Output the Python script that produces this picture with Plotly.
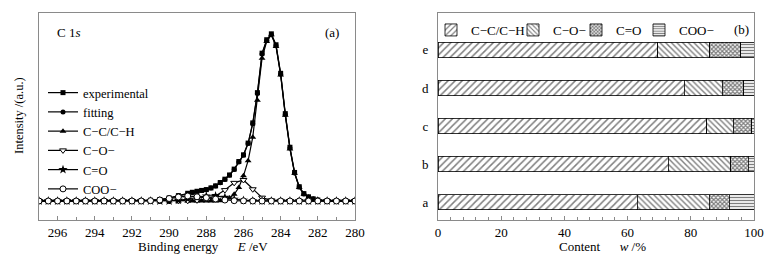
import plotly.graph_objects as go

# ---------------- data: XPS C 1s (panel a) ----------------
# fine energy grid for the main peak series (eV)
E_fine = [297, 296.5, 296, 295.5, 295, 294.5, 294, 293.5, 293, 292.5, 292, 291.5, 291, 290.5, 290, 289.5,
          289, 288.75, 288.5, 288.25, 288, 287.75, 287.5, 287.25, 287, 286.75, 286.5, 286.25, 286,
          285.75, 285.5, 285.25, 285, 284.75, 284.5, 284.25, 284, 283.75, 283.5, 283.25, 283, 282.75,
          282.5, 282.25, 282, 281.5, 281, 280.5, 280]
experimental = [0, 0, 0, 0, 0, 0, 0, 0, 0, 0, 0.001, 0.002, 0.004, 0.009, 0.018, 0.032,
                0.046, 0.052, 0.058, 0.063, 0.068, 0.078, 0.09, 0.11, 0.13, 0.155, 0.19, 0.235, 0.275,
                0.345, 0.465, 0.645, 0.88, 0.96, 0.995, 0.93, 0.76, 0.52, 0.32, 0.17, 0.085, 0.044,
                0.025, 0.013, 0.006, 0.002, 0, 0, 0]
fitting = [0, 0, 0, 0, 0, 0, 0, 0, 0, 0, 0, 0.001, 0.003, 0.008, 0.017, 0.031,
           0.045, 0.051, 0.057, 0.062, 0.067, 0.077, 0.089, 0.108, 0.128, 0.153, 0.188, 0.232, 0.272,
           0.342, 0.46, 0.64, 0.875, 0.955, 0.99, 0.925, 0.755, 0.515, 0.315, 0.167, 0.083, 0.042,
           0.023, 0.012, 0.005, 0.001, 0, 0, 0]
cc_ch = [0, 0, 0, 0, 0, 0, 0, 0, 0, 0, 0, 0, 0, 0, 0, 0,
         0, 0, 0, 0, 0, 0, 0, 0.002, 0.005, 0.018, 0.04, 0.08, 0.15,
         0.24, 0.38, 0.6, 0.85, 0.95, 0.99, 0.92, 0.75, 0.51, 0.31, 0.165, 0.08, 0.04,
         0.022, 0.011, 0.005, 0.001, 0, 0, 0]

# coarse energy grid for the minor components (eV)
E_coarse = [297, 296.5, 296, 295.5, 295, 294.5, 294, 293.5, 293, 292.5, 292, 291.5, 291, 290.5, 290,
            289.5, 289, 288.5, 288, 287.5, 287, 286.5, 286, 285.5, 285, 284.5, 284, 283.5, 283,
            282.5, 282, 281.5, 281, 280.5, 280]
c_o = [0, 0, 0, 0, 0, 0, 0, 0, 0, 0, 0, 0, 0, 0, 0,
       0, 0.001, 0.004, 0.012, 0.03, 0.065, 0.108, 0.125, 0.07, 0.02, 0.004, 0.001, 0, 0,
       0, 0, 0, 0, 0, 0]
c_eq_o = [0, 0, 0, 0, 0, 0, 0, 0, 0, 0, 0, 0, 0, 0, 0,
          0.004, 0.012, 0.022, 0.03, 0.03, 0.022, 0.011, 0.004, 0.001, 0, 0, 0, 0, 0,
          0, 0, 0, 0, 0, 0]
coo = [0, 0, 0, 0, 0, 0, 0, 0, 0, 0, 0, 0, 0.002, 0.006, 0.015,
       0.024, 0.03, 0.025, 0.02, 0.012, 0.006, 0.002, 0.001, 0, 0, 0, 0, 0, 0,
       0, 0, 0, 0, 0, 0]

xps_names = ["experimental", "fitting", "C\u2212C/C\u2212H", "C\u2212O\u2212", "C=O", "COO\u2212"]
energy_ticks = [296, 294, 292, 290, 288, 286, 284, 282, 280]

# ---------------- data: composition (panel b) ----------------
samples = ["a", "b", "c", "d", "e"]
comp_names = ["C\u2212C/C\u2212H", "C\u2212O\u2212", "C=O", "COO\u2212"]
w_cc = [63.1, 72.9, 85.0, 77.9, 69.6]
w_co = [22.8, 19.7, 8.4, 12.1, 16.4]
w_c_eq_o = [6.2, 5.6, 5.9, 6.8, 9.8]
w_coo = [7.9, 1.8, 0.7, 3.2, 4.2]
content_ticks = [0, 20, 40, 60, 80, 100]

FONT = "Liberation Serif"
FRAME = "#8a8a8a"

fig = go.Figure()

# ---- panel (a) traces ----
xps_series = [
    (E_fine, experimental, dict(symbol="square", size=5, color="black")),
    (E_fine, fitting, dict(symbol="circle", size=5, color="black")),
    (E_fine, cc_ch, dict(symbol="triangle-up", size=6, color="black")),
    (E_coarse, c_o, dict(symbol="triangle-down", size=6, color="white", line=dict(color="black", width=1))),
    (E_coarse, c_eq_o, dict(symbol="star", size=7, color="black")),
    (E_coarse, coo, dict(symbol="circle", size=6, color="white", line=dict(color="black", width=1))),
]
for name, (xs, ys, mk) in zip(xps_names, xps_series):
    fig.add_trace(go.Scatter(x=xs, y=ys, name=name, mode="lines+markers",
                             line=dict(color="black", width=1.2), marker=mk,
                             xaxis="x", yaxis="y", legend="legend"))

# ---- panel (b) traces ----
patterns = [
    dict(shape="/", size=5, solidity=0.3, fgcolor="black", bgcolor="white"),
    dict(shape="\\", size=4, solidity=0.35, fgcolor="black", bgcolor="white"),
    dict(shape="x", size=3, solidity=0.65, fgcolor="black", bgcolor="white"),
    dict(shape="-", size=3, solidity=0.45, fgcolor="black", bgcolor="white"),
]
bar_legends = ["legend2", "legend3", "legend4", "legend5"]
for name, vals, pat, lg in zip(comp_names, [w_cc, w_co, w_c_eq_o, w_coo], patterns, bar_legends):
    fig.add_trace(go.Bar(x=vals, y=samples, name=name, orientation="h", width=0.4,
                         marker=dict(color="white", pattern=pat, line=dict(color="black", width=0.8)),
                         xaxis="x2", yaxis="y2", legend=lg))

W, H = 769, 259
def px_x(p): return p / W          # window pixel -> paper x
def px_y(p): return 1 - p / H      # window pixel -> paper y

hleg = dict(y=px_y(15), xanchor="left", yanchor="top", orientation="h", bgcolor="rgba(0,0,0,0)",
            font=dict(size=13, family=FONT), itemwidth=30, traceorder="normal")

fig.update_layout(
    width=W, height=H, margin=dict(l=0, r=0, t=0, b=0, autoexpand=False),
    paper_bgcolor="white", plot_bgcolor="white",
    font=dict(family=FONT, size=13, color="black"),
    barmode="stack", hovermode=False,
    xaxis=dict(domain=[px_x(39), px_x(355)], range=[297, 280], tickvals=energy_ticks,
               ticks="inside", ticklen=4, tickcolor=FRAME,
               minor=dict(dtick=1, ticks="inside", ticklen=3, tickcolor=FRAME),
               showline=True, linecolor=FRAME, mirror=True, showgrid=False, zeroline=False,
               tickfont=dict(size=13, family=FONT), anchor="y"),
    yaxis=dict(domain=[px_y(220), px_y(13)], range=[-0.113, 1.119], showticklabels=False,
               ticks="", showline=True, linecolor=FRAME, mirror=True, showgrid=False,
               zeroline=False, anchor="x"),
    xaxis2=dict(domain=[px_x(438), px_x(754)], range=[0, 100], tickvals=content_ticks,
                ticks="inside", ticklen=4, tickcolor=FRAME,
                minor=dict(dtick=4, ticks="inside", ticklen=3, tickcolor=FRAME),
                showline=True, linecolor=FRAME, mirror=True, showgrid=False, zeroline=False,
                tickfont=dict(size=13, family=FONT), anchor="y2"),
    yaxis2=dict(domain=[px_y(220), px_y(13)], type="category", categoryorder="array",
                categoryarray=samples, range=[-0.47, 4.97], ticks="", ticklabelstandoff=6,
                showline=True, linecolor=FRAME, mirror=True, showgrid=False, zeroline=False,
                tickfont=dict(size=13, family=FONT), anchor="x2"),
    legend=dict(x=px_x(43), y=px_y(78), xanchor="left", yanchor="top", orientation="v",
                bgcolor="rgba(0,0,0,0)", font=dict(size=12.5, family=FONT),
                itemwidth=30, tracegroupgap=0, traceorder="normal"),
    legend2=dict(x=px_x(431), **hleg),
    legend3=dict(x=px_x(513), **hleg),
    legend4=dict(x=px_x(576), **hleg),
    legend5=dict(x=px_x(639), **hleg),
    annotations=[
        dict(text="C 1<i>s</i>", x=px_x(55), y=px_y(33), xref="paper", yref="paper",
             xanchor="left", yanchor="middle", showarrow=False, font=dict(size=13)),
        dict(text="(a)", x=px_x(341), y=px_y(33), xref="paper", yref="paper",
             xanchor="right", yanchor="middle", showarrow=False, font=dict(size=13)),
        dict(text="(b)", x=px_x(751), y=px_y(30), xref="paper", yref="paper",
             xanchor="right", yanchor="middle", showarrow=False, font=dict(size=13)),
        dict(text="Intensity /(a.u.)", x=px_x(19), y=px_y(116), xref="paper", yref="paper",
             textangle=-90, xanchor="center", yanchor="middle", showarrow=False, font=dict(size=12.5)),
        dict(text="Binding energy&#160;&#160;&#160;&#160;&#160;&#160;<i>E</i> /eV", x=px_x(203), y=px_y(246),
             xref="paper", yref="paper", xanchor="center", yanchor="middle", showarrow=False,
             font=dict(size=13)),
        dict(text="Content&#160;&#160;&#160;&#160;&#160;&#160;<i>w</i> /%", x=px_x(602), y=px_y(246),
             xref="paper", yref="paper", xanchor="center", yanchor="middle", showarrow=False,
             font=dict(size=13)),
    ],
)

# remove the default page margin so the 769x259 figure fills the window exactly
fig.write_html("out.html", config={"displayModeBar": False},
               post_script="document.body.style.margin='0';document.body.style.overflow='hidden';")
